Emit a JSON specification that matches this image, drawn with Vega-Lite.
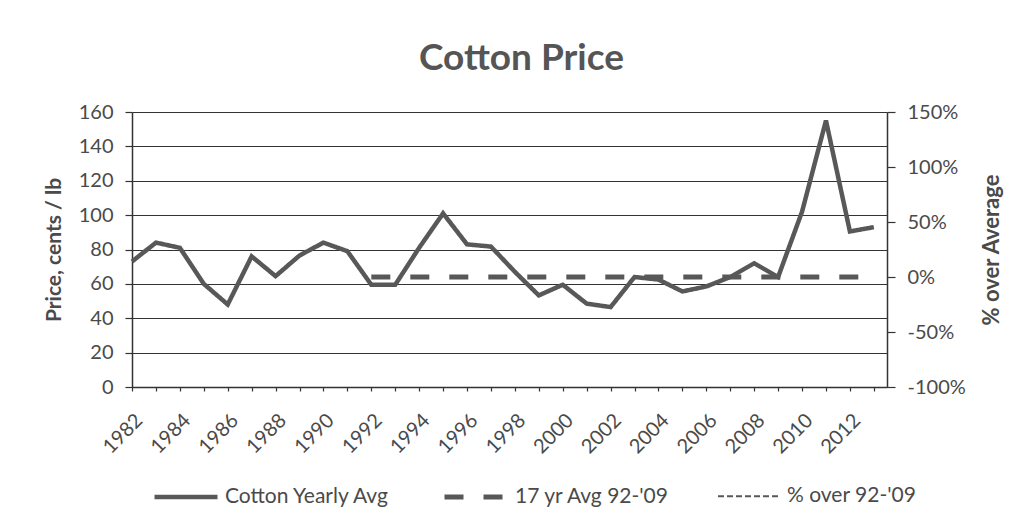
{
  "$schema": "https://vega.github.io/schema/vega-lite/v6.json",
  "width": 755,
  "height": 275,
  "autosize": {"type": "none"},
  "padding": {"left": 132, "top": 112, "right": 134, "bottom": 139},
  "background": "white",
  "config": {
    "font": "Lato",
    "view": {"stroke": null},
    "axis": {"labelColor": "#4a4a4a", "titleColor": "#4a4a4a", "domainColor": "#333", "tickColor": "#333", "gridColor": "#333", "gridWidth": 1.2, "domainWidth": 1.5, "tickWidth": 1.2}
  },
  "title": {"text": "Cotton Price", "fontSize": 37, "fontWeight": "bold", "color": "#555", "anchor": "middle", "offset": 24, "dx": 12, "font": "Lato"},
  "datasets": {
    "price": [
      {"year": 1982, "series": "Cotton Yearly Avg", "value": 73},
      {"year": 1983, "series": "Cotton Yearly Avg", "value": 84},
      {"year": 1984, "series": "Cotton Yearly Avg", "value": 81},
      {"year": 1985, "series": "Cotton Yearly Avg", "value": 60},
      {"year": 1986, "series": "Cotton Yearly Avg", "value": 48},
      {"year": 1987, "series": "Cotton Yearly Avg", "value": 76},
      {"year": 1988, "series": "Cotton Yearly Avg", "value": 64.5},
      {"year": 1989, "series": "Cotton Yearly Avg", "value": 76.5},
      {"year": 1990, "series": "Cotton Yearly Avg", "value": 84},
      {"year": 1991, "series": "Cotton Yearly Avg", "value": 79},
      {"year": 1992, "series": "Cotton Yearly Avg", "value": 59.5},
      {"year": 1993, "series": "Cotton Yearly Avg", "value": 59.5},
      {"year": 1994, "series": "Cotton Yearly Avg", "value": 81},
      {"year": 1995, "series": "Cotton Yearly Avg", "value": 101},
      {"year": 1996, "series": "Cotton Yearly Avg", "value": 83},
      {"year": 1997, "series": "Cotton Yearly Avg", "value": 81.7},
      {"year": 1998, "series": "Cotton Yearly Avg", "value": 67},
      {"year": 1999, "series": "Cotton Yearly Avg", "value": 53.3},
      {"year": 2000, "series": "Cotton Yearly Avg", "value": 59.5},
      {"year": 2001, "series": "Cotton Yearly Avg", "value": 48.5},
      {"year": 2002, "series": "Cotton Yearly Avg", "value": 46.5},
      {"year": 2003, "series": "Cotton Yearly Avg", "value": 64},
      {"year": 2004, "series": "Cotton Yearly Avg", "value": 62.5},
      {"year": 2005, "series": "Cotton Yearly Avg", "value": 55.6},
      {"year": 2006, "series": "Cotton Yearly Avg", "value": 58.5},
      {"year": 2007, "series": "Cotton Yearly Avg", "value": 64},
      {"year": 2008, "series": "Cotton Yearly Avg", "value": 72},
      {"year": 2009, "series": "Cotton Yearly Avg", "value": 64},
      {"year": 2010, "series": "Cotton Yearly Avg", "value": 102},
      {"year": 2011, "series": "Cotton Yearly Avg", "value": 155},
      {"year": 2012, "series": "Cotton Yearly Avg", "value": 90.5},
      {"year": 2013, "series": "Cotton Yearly Avg", "value": 93},
      {"year": 1992, "series": "17 yr Avg 92-'09", "value": 64},
      {"year": 1993, "series": "17 yr Avg 92-'09", "value": 64},
      {"year": 1994, "series": "17 yr Avg 92-'09", "value": 64},
      {"year": 1995, "series": "17 yr Avg 92-'09", "value": 64},
      {"year": 1996, "series": "17 yr Avg 92-'09", "value": 64},
      {"year": 1997, "series": "17 yr Avg 92-'09", "value": 64},
      {"year": 1998, "series": "17 yr Avg 92-'09", "value": 64},
      {"year": 1999, "series": "17 yr Avg 92-'09", "value": 64},
      {"year": 2000, "series": "17 yr Avg 92-'09", "value": 64},
      {"year": 2001, "series": "17 yr Avg 92-'09", "value": 64},
      {"year": 2002, "series": "17 yr Avg 92-'09", "value": 64},
      {"year": 2003, "series": "17 yr Avg 92-'09", "value": 64},
      {"year": 2004, "series": "17 yr Avg 92-'09", "value": 64},
      {"year": 2005, "series": "17 yr Avg 92-'09", "value": 64},
      {"year": 2006, "series": "17 yr Avg 92-'09", "value": 64},
      {"year": 2007, "series": "17 yr Avg 92-'09", "value": 64},
      {"year": 2008, "series": "17 yr Avg 92-'09", "value": 64},
      {"year": 2009, "series": "17 yr Avg 92-'09", "value": 64},
      {"year": 2010, "series": "17 yr Avg 92-'09", "value": 64},
      {"year": 2011, "series": "17 yr Avg 92-'09", "value": 64},
      {"year": 2012, "series": "17 yr Avg 92-'09", "value": 64},
      {"year": 2013, "series": "17 yr Avg 92-'09", "value": 64}
    ],
    "pct": [
      {"year": 1992, "series": "% over 92-'09", "value": -0.07},
      {"year": 1993, "series": "% over 92-'09", "value": -0.07},
      {"year": 1994, "series": "% over 92-'09", "value": 0.266},
      {"year": 1995, "series": "% over 92-'09", "value": 0.578},
      {"year": 1996, "series": "% over 92-'09", "value": 0.297},
      {"year": 1997, "series": "% over 92-'09", "value": 0.277},
      {"year": 1998, "series": "% over 92-'09", "value": 0.047},
      {"year": 1999, "series": "% over 92-'09", "value": -0.167},
      {"year": 2000, "series": "% over 92-'09", "value": -0.07},
      {"year": 2001, "series": "% over 92-'09", "value": -0.242},
      {"year": 2002, "series": "% over 92-'09", "value": -0.273},
      {"year": 2003, "series": "% over 92-'09", "value": 0},
      {"year": 2004, "series": "% over 92-'09", "value": -0.023},
      {"year": 2005, "series": "% over 92-'09", "value": -0.131},
      {"year": 2006, "series": "% over 92-'09", "value": -0.086},
      {"year": 2007, "series": "% over 92-'09", "value": 0},
      {"year": 2008, "series": "% over 92-'09", "value": 0.125},
      {"year": 2009, "series": "% over 92-'09", "value": 0},
      {"year": 2010, "series": "% over 92-'09", "value": 0.594},
      {"year": 2011, "series": "% over 92-'09", "value": 1.422},
      {"year": 2012, "series": "% over 92-'09", "value": 0.414},
      {"year": 2013, "series": "% over 92-'09", "value": 0.453}
    ]
  },
  "encoding": {
    "x": {
      "field": "year", "type": "quantitative",
      "scale": {"domain": [1982, 2013.55], "nice": false, "zero": false},
      "axis": {
        "title": null, "grid": false,
        "values": [1982,1983,1984,1985,1986,1987,1988,1989,1990,1991,1992,1993,1994,1995,1996,1997,1998,1999,2000,2001,2002,2003,2004,2005,2006,2007,2008,2009,2010,2011,2012,2013],
        "format": "d",
        "labelExpr": "datum.value % 2 === 0 ? datum.label : ''",
        "labelAngle": -45, "labelFontSize": 20, "tickSize": 4, "labelPadding": 19,
        "labelOverlap": false, "labelBound": false, "labelFlush": false
      }
    },
    "color": {
      "field": "series", "type": "nominal",
      "scale": {"domain": ["Cotton Yearly Avg", "17 yr Avg 92-'09", "% over 92-'09"], "range": ["#585858", "#585858", "#585858"]},
      "legend": {
        "title": null, "orient": "none", "direction": "horizontal",
        "legendX": 20, "legendY": 351,
        "symbolType": "stroke", "symbolSize": 3969,
        "labelFontSize": 21, "labelColor": "#4a4a4a", "labelOffset": 5, "labelLimit": 0,
        "columnPadding": 44
      }
    },
    "strokeDash": {
      "field": "series", "type": "nominal",
      "scale": {"domain": ["Cotton Yearly Avg", "17 yr Avg 92-'09", "% over 92-'09"], "range": [[1, 0], [19, 20], [6, 3]]},
      "legend": null
    },
    "strokeWidth": {
      "field": "series", "type": "nominal",
      "scale": {"type": "ordinal", "domain": ["Cotton Yearly Avg", "17 yr Avg 92-'09", "% over 92-'09"], "range": [4.5, 5, 1.8]},
      "legend": null
    }
  },
  "layer": [
    {
      "data": {"name": "pct"},
      "mark": {"type": "line"},
      "encoding": {
        "y": {
          "field": "value", "type": "quantitative",
          "scale": {"domain": [-1, 1.5], "nice": false, "zero": false},
          "axis": {
            "orient": "right", "title": "% over Average", "titleAngle": -90,
            "titleFontSize": 22, "titleFontWeight": "bold", "titlePadding": 38,
            "values": [-1, -0.5, 0, 0.5, 1, 1.5],
            "labelExpr": "replace(format(datum.value, '.0%'), '\u2212', '-')",
            "labelFontSize": 20, "tickSize": 8, "labelPadding": 12, "grid": false
          }
        }
      }
    },
    {
      "data": {"name": "price"},
      "mark": {"type": "line"},
      "encoding": {
        "y": {
          "field": "value", "type": "quantitative",
          "scale": {"domain": [0, 160], "nice": false},
          "axis": {
            "title": "Price, cents / lb", "titleFontSize": 21, "titleFontWeight": "bold", "titlePadding": 14,
            "values": [0, 20, 40, 60, 80, 100, 120, 140, 160],
            "labelFontSize": 20, "tickSize": 7, "labelPadding": 12, "grid": true
          }
        }
      }
    }
  ],
  "resolve": {"scale": {"y": "independent"}, "axis": {"y": "independent"}}
}
